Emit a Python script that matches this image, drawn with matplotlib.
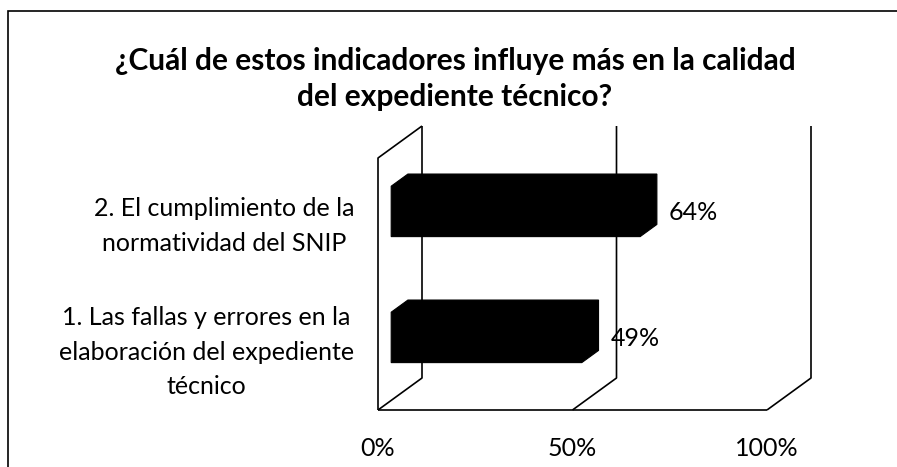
#!/usr/bin/env python3
# -*- coding: utf-8 -*-
import numpy as np
import matplotlib
matplotlib.use("Agg")
import matplotlib.pyplot as plt
from matplotlib.patches import Polygon, Rectangle
from matplotlib.lines import Line2D

#===================================================================================#
## data
categories = ["1. Las fallas y errores en la\nelaboración del expediente\ntécnico",
              "2. El cumplimiento de la\nnormatividad del SNIP"]
values = [49, 64]
value_labels = ["49%", "64%"]
x_ticks = [0, 50, 100]
x_tick_labels = ["0%", "50%", "100%"]
title = "¿Cuál de estos indicadores influye más en la calidad\ndel expediente técnico?"

#===================================================================================#
## plot parameters
font = "Lato"
fs = 18
lw = 1.2
depth_px = np.array([44.0, 32.0])      # 3D depth vector of the walls (pixels)
bar_front, bar_back = 0.30, 0.68       # bar position inside the depth
bar_h = 0.4

fig = plt.figure(figsize=(8.97, 4.67), dpi=100)
ax = fig.add_axes([378 / 897, (467 - 410) / 467, 389 / 897, 252 / 467])
ax.set_xlim(0, 100)
ax.set_ylim(-0.5, 1.5)
ax.axis("off")
fig.canvas.draw()

to_fig = fig.transFigure.inverted()

def P(x, y, d):
    # data point pushed back by a fraction d of the depth, in figure coords
    pt = ax.transData.transform((x, y)) + d * depth_px
    return to_fig.transform(pt)

def line(pts):
    pts = np.array(pts)
    fig.add_artist(Line2D(pts[:, 0], pts[:, 1], color="black", lw=lw,
                          transform=fig.transFigure, solid_capstyle="butt"))

y0, y1 = ax.get_ylim()
# back wall verticals and floor diagonals
for t in x_ticks:
    line([P(t, y0, 0), P(t, y0, 1), P(t, y1, 1)])
# front floor edge, left wall
line([P(0, y0, 0), P(100, y0, 0)])
line([P(0, y0, 0), P(0, y1, 0), P(0, y1, 1)])

# bars as hexagonal prisms
for i, v in enumerate(values):
    b, t = i - bar_h / 2, i + bar_h / 2
    pts = [P(0, b, bar_front), P(0, t, bar_front), P(0, t, bar_back),
           P(v, t, bar_back), P(v, b, bar_back), P(v, b, bar_front)]
    fig.add_artist(Polygon(pts, closed=True, facecolor="black", edgecolor="black",
                           lw=0.8, transform=fig.transFigure))
    ax.annotate(value_labels[i], xy=(v, i), xytext=(42, 9), textcoords="offset pixels",
                ha="left", va="center", fontsize=fs, family=font, annotation_clip=False)

# category labels
for i, c in enumerate(categories):
    ax.annotate(c, xy=(0, i), xytext=(-24, -5), textcoords="offset pixels",
                ha="right", va="center", multialignment="center", fontsize=fs,
                family=font, linespacing=1.6, annotation_clip=False)

# tick labels
for t, s in zip(x_ticks, x_tick_labels):
    ax.annotate(s, xy=(t, y0), xytext=(0, -39), textcoords="offset pixels",
                ha="center", va="center", fontsize=fs, family=font, annotation_clip=False)

fig.text(455 / 897, 1 - 79 / 467, title, ha="center", va="center", fontsize=21.5,
         fontweight="bold", family=font, linespacing=1.35)

# chart frame
fig.add_artist(Rectangle((8 / 897, -0.01), 1.0, 1 - 11 / 467 + 0.01, fill=False,
                         edgecolor="black", lw=1.2, transform=fig.transFigure))

plt.savefig("out.png", dpi=100)
